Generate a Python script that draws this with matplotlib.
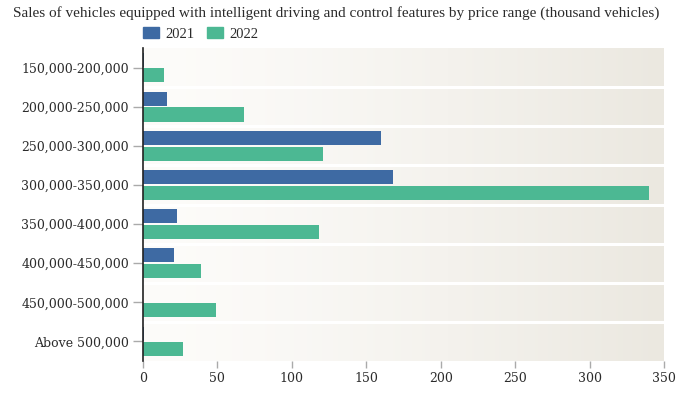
import matplotlib.pyplot as plt
import numpy as np
from matplotlib.patches import Patch

# 数据：按价格区间的智能驾驶车辆销量（千辆）
categories = ["150,000-200,000", "200,000-250,000", "250,000-300,000", "300,000-350,000",
              "350,000-400,000", "400,000-450,000", "450,000-500,000", "Above 500,000"]
sales_2021 = [1, 16, 160, 168, 23, 21, 0.3, 0.5]
sales_2022 = [14, 68, 121, 340, 118, 39, 49, 27]
x_ticks = [0, 50, 100, 150, 200, 250, 300, 350]

C2021 = "#3e6aa3"
C2022 = "#4cb893"
TEXT = "#2b2b2b"

plt.rcParams["font.family"] = ["DejaVu Serif"]

fig = plt.figure(figsize=(7, 3.94), dpi=100)
ax = fig.add_axes([143 / 700, 1 - 361 / 394, 521 / 700, 313 / 394])

n = len(categories)
# 背景：每行从左白到右米色的渐变带
grad = np.linspace(0, 1, 256) ** 1.3
left = np.array([253, 252, 250]) / 255
right = np.array([235, 232, 224]) / 255
img = left[None, :] * (1 - grad[:, None]) + right[None, :] * grad[:, None]
img = img[None, :, :]
ax.imshow(img, extent=(0, 350, n - 0.5, -0.5), aspect="auto", zorder=0)
for i in range(n - 1):
    ax.axhline(i + 0.5, color="white", lw=2.2, zorder=1)

y = np.arange(n)
off, h = 0.2, 0.36
ax.barh(y - off, sales_2021, height=h, color=C2021, zorder=2)
ax.barh(y + off, sales_2022, height=h, color=C2022, zorder=2)

ax.set_xlim(0, 350)
ax.set_ylim(n - 0.5, -0.5)
ax.set_yticks(y)
ax.set_yticklabels(categories, fontsize=9, color=TEXT)
ax.set_xticks(x_ticks)
ax.set_xticklabels([str(v) for v in x_ticks], fontsize=9, color=TEXT)
ax.tick_params(axis="y", length=7, width=1, color="#aaaaaa", pad=3)
ax.tick_params(axis="x", length=5, width=1, color="#aaaaaa", pad=3)

for s in ["top", "right", "bottom"]:
    ax.spines[s].set_visible(False)
ax.spines["left"].set_color("#222222")
ax.spines["left"].set_linewidth(1.2)
ax.spines["left"].set_zorder(3)

fig.text(13 / 700, 1 - 13 / 394,
         "Sales of vehicles equipped with intelligent driving and control features by price range (thousand vehicles)",
         fontsize=11, color=TEXT, va="center", ha="left", family=["Liberation Serif"])

handles = [Patch(color=C2021, label="2021"), Patch(color=C2022, label="2022")]
fig.legend(handles=handles, loc="center left", bbox_to_anchor=(130 / 700, 1 - 34 / 394),
           ncol=2, frameon=False, handlelength=1.1, handleheight=0.7,
           handletextpad=0.4, columnspacing=0.9, labelcolor=TEXT,
           prop={"family": "Liberation Serif", "size": 10.5})

fig.savefig("out.png", dpi=100, facecolor="white")
